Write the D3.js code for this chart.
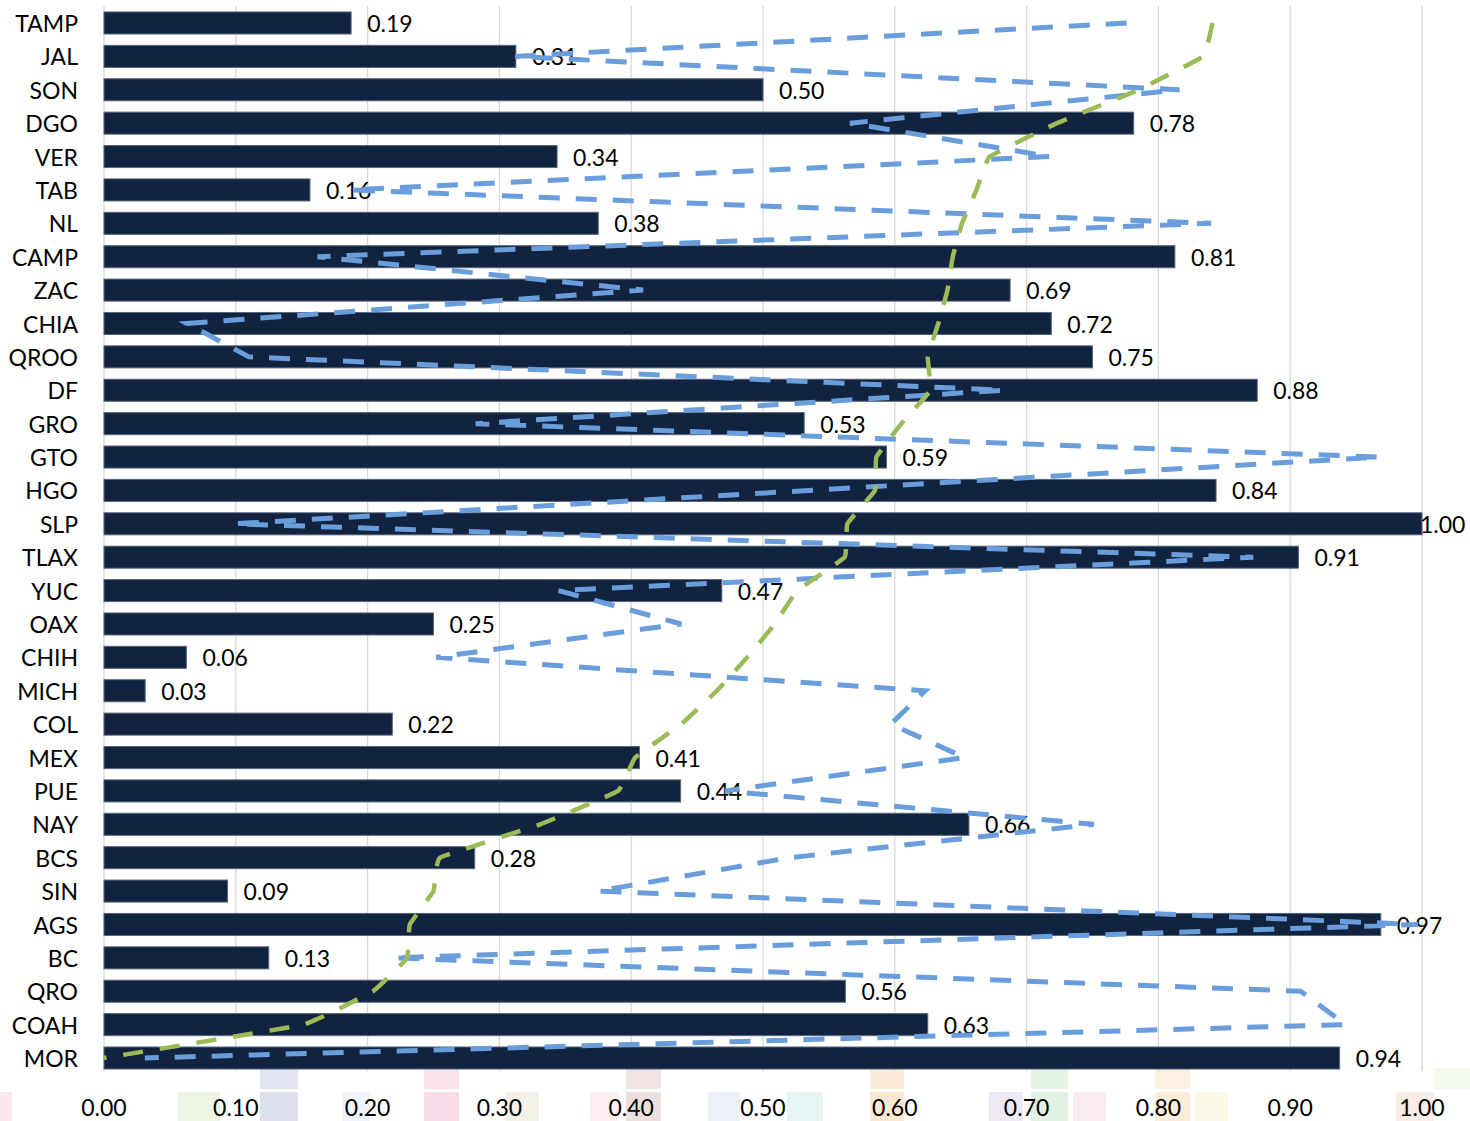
<!DOCTYPE html>
<html>
<head>
<meta charset="utf-8">
<script src="https://cdn.jsdelivr.net/npm/d3@7"></script>
<style>
  html, body { margin: 0; padding: 0; background: #fff; }
  svg { display: block; font-family: Lato, "Open Sans", sans-serif; }
</style>
</head>
<body>
<svg id="chart" width="1470" height="1121"></svg>
<script>

// chart data
const states = ['TAMP', 'JAL', 'SON', 'DGO', 'VER', 'TAB', 'NL', 'CAMP', 'ZAC', 'CHIA', 'QROO',
  'DF', 'GRO', 'GTO', 'HGO', 'SLP', 'TLAX', 'YUC', 'OAX', 'CHIH', 'MICH', 'COL', 'MEX', 'PUE',
  'NAY', 'BCS', 'SIN', 'AGS', 'BC', 'QRO', 'COAH', 'MOR'];

const barValues = [0.1875, 0.3125, 0.5, 0.78125, 0.34375, 0.15625, 0.375, 0.8125, 0.6875, 0.71875, 0.75,
  0.875, 0.53125, 0.59375, 0.84375, 1.0, 0.90625, 0.46875, 0.25, 0.0625, 0.03125, 0.21875, 0.40625, 0.4375,
  0.65625, 0.28125, 0.09375, 0.96875, 0.125, 0.5625, 0.625, 0.9375];

const blueValues = [0.776, 0.312, 0.816, 0.566, 0.718, 0.187, 0.84, 0.162, 0.409, 0.063, 0.11,
  0.683, 0.282, 0.968, 0.535, 0.099, 0.872, 0.345, 0.438, 0.252, 0.623, 0.597, 0.653, 0.471,
  0.751, 0.52, 0.375, 0.997, 0.219, 0.908, 0.942, 0.031];

const greenValues = [0.841, 0.834, 0.785, 0.723, 0.672, 0.662, 0.651, 0.644, 0.64, 0.633, 0.625,
  0.627, 0.605, 0.586, 0.585, 0.564, 0.562, 0.526, 0.509, 0.488, 0.465, 0.438, 0.403, 0.39,
  0.331, 0.255, 0.25, 0.232, 0.23, 0.204, 0.151, 0.0];

const xTicks = [0, 0.1, 0.2, 0.3, 0.4, 0.5, 0.6, 0.7, 0.8, 0.9, 1.0];

// faded colour swatches along the bottom edge of the picture (decoration only)
const swatches = [
  [0, 12, 1, '#f4c6d6'], [178, 220, 1, '#cfe6b8'], [260, 298, 0, '#b5bdd6'], [260, 298, 1, '#a9b3cf'],
  [342, 370, 1, '#d6e2f2'], [424, 459, 0, '#f2b6cf'], [424, 459, 1, '#f2a6c8'], [506, 539, 1, '#e6dcc6'],
  [590, 619, 1, '#f6d6df'], [626, 661, 0, '#d9b9bb'], [626, 661, 1, '#d2aeb2'], [708, 740, 1, '#cfdcef'],
  [787, 823, 1, '#bfe6e2'], [870, 904, 0, '#f6d0a8'], [870, 904, 1, '#f3c48f'], [989, 1023, 1, '#d6c6e6'],
  [1031, 1068, 0, '#bfe2bf'], [1031, 1068, 1, '#b3dbb3'], [1073, 1106, 1, '#f4cddc'], [1155, 1190, 0, '#f8dcb4'],
  [1155, 1190, 1, '#f6d2a0'], [1195, 1228, 1, '#f4f0bf'], [1396, 1434, 1, '#f2cfc4'], [1434, 1470, 0, '#e1efcf']
];

const width = 1470;
const height = 1121;

const svg = d3.select('#chart');

svg.append('rect')
  .attr('width', width)
  .attr('height', height)
  .attr('fill', '#fff');

const x = d3.scaleLinear().domain([0, 1]).range([104, 1422]);
const y = d3.scaleBand()
  .domain(states)
  .range([6.3, 1074.7])
  .paddingInner(0.34)
  .paddingOuter(0.17);

const rowMid = (s) => y(s) + y.bandwidth() / 2;

// swatches
svg.append('g')
  .selectAll('rect')
  .data(swatches)
  .enter()
  .append('rect')
  .attr('x', d => d[0])
  .attr('width', d => d[1] - d[0])
  .attr('y', d => d[2] === 0 ? 1068 : 1092)
  .attr('height', d => d[2] === 0 ? 21 : 29)
  .attr('fill', d => d[3])
  .attr('opacity', 0.4);

// vertical gridlines
svg.append('g')
  .selectAll('line')
  .data(xTicks)
  .enter()
  .append('line')
  .attr('x1', d => x(d))
  .attr('x2', d => x(d))
  .attr('y1', 6)
  .attr('y2', 1071)
  .attr('stroke', '#d9d9d9')
  .attr('stroke-width', 1.3);

// x axis labels
svg.append('g')
  .selectAll('text')
  .data(xTicks)
  .enter()
  .append('text')
  .attr('x', d => x(d))
  .attr('y', 1108)
  .attr('dy', '0.35em')
  .attr('text-anchor', 'middle')
  .style('font-size', '23px')
  .attr('fill', '#000')
  .text(d => d3.format('.2f')(d));

// category labels
svg.append('g')
  .selectAll('text')
  .data(states)
  .enter()
  .append('text')
  .attr('x', 78)
  .attr('y', d => rowMid(d) + 1)
  .attr('dy', '0.35em')
  .attr('text-anchor', 'end')
  .style('font-size', '23px')
  .attr('fill', '#000')
  .text(d => d);

const rows = states.map((s, i) => ({ state: s, bar: barValues[i], blue: blueValues[i], green: greenValues[i] }));

// bars
svg.append('g')
  .selectAll('rect')
  .data(rows)
  .enter()
  .append('rect')
  .attr('x', x(0))
  .attr('y', d => y(d.state))
  .attr('width', d => x(d.bar) - x(0))
  .attr('height', y.bandwidth())
  .attr('fill', '#12233f')
  .attr('stroke', '#56657c')
  .attr('stroke-width', 1);

// value labels
svg.append('g')
  .selectAll('text')
  .data(rows)
  .enter()
  .append('text')
  .attr('x', d => Math.min(x(d.bar) + 16, x(1) - 2))
  .attr('y', d => rowMid(d.state) + 1)
  .attr('dy', '0.35em')
  .style('font-size', '23px')
  .attr('fill', '#000')
  .text(d => d3.format('.2f')(d.bar));

// dashed lines
const lineFor = (key, curve) => d3.line()
  .x(d => x(d[key]))
  .y(d => rowMid(d.state))
  .curve(curve);

svg.append('path')
  .datum(rows)
  .attr('d', lineFor('blue', d3.curveLinear))
  .attr('fill', 'none')
  .attr('stroke', '#6a9ddb')
  .attr('stroke-width', 5)
  .attr('stroke-dasharray', '21,16');

svg.append('path')
  .datum(rows)
  .attr('d', lineFor('green', d3.curveCardinal.tension(0.75)))
  .attr('fill', 'none')
  .attr('stroke', '#9bbb59')
  .attr('stroke-width', 4.5)
  .attr('stroke-dasharray', '20,17');

</script>
</body>
</html>
